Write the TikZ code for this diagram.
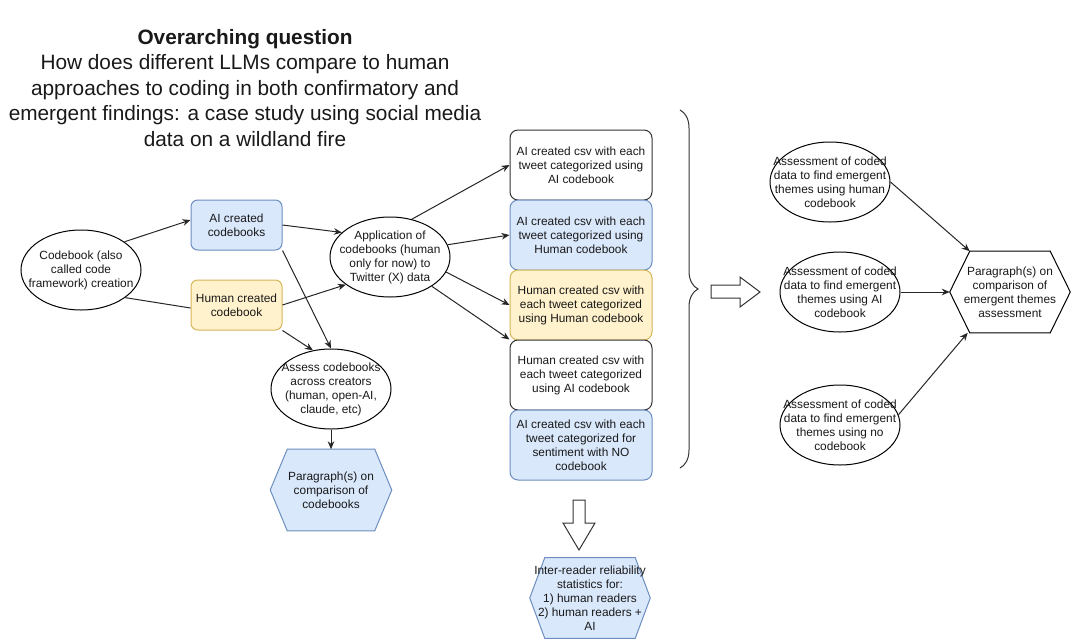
\documentclass[tikz,border=0pt]{standalone}
\usepackage{fontspec}
\setmainfont{Liberation Sans}
\usetikzlibrary{arrows.meta,shapes.geometric,decorations.pathreplacing,backgrounds}
\definecolor{bluef}{HTML}{DAE8FC}
\definecolor{blues}{HTML}{6C8EBF}
\definecolor{yelf}{HTML}{FFF2CC}
\definecolor{yels}{HTML}{D6B656}
\definecolor{dk}{HTML}{333333}
\newcommand{\hexdraw}[3]{%
  \draw[#3] (#1.west) -- ([xshift=#2]#1.north west) -- ([xshift=-#2]#1.north east) -- (#1.east) -- ([xshift=-#2]#1.south east) -- ([xshift=#2]#1.south west) -- cycle;}
\begin{document}
\begin{tikzpicture}[x=0.75pt,y=-0.75pt,
  every node/.style={font=\fontsize{8.9}{10.5}\selectfont, align=center, inner sep=0pt, text=black!90},
  ell/.style={ellipse, draw=black, line width=0.75pt, fill=white, minimum width=90pt, minimum height=60pt},
  rbox/.style={rectangle, rounded corners=6pt, line width=0.75pt, draw=dk, fill=white, minimum width=106.5pt, minimum height=52.5pt},
  sbox/.style={rectangle, rounded corners=5pt, line width=0.75pt, minimum width=68.25pt, minimum height=37.5pt},
  bluebox/.style={fill=bluef, draw=blues},
  yelbox/.style={fill=yelf, draw=yels},
  hexnode/.style={rectangle, minimum width=90pt, minimum height=60pt},
  hexblue/.style={fill=bluef, draw=blues, line width=0.75pt},
  hexwhite/.style={fill=white, draw=black, line width=0.75pt},
  arr/.style={-{Stealth[length=6pt,width=5pt]}, line width=0.75pt, draw=black!85},
  plain/.style={line width=0.75pt, draw=black!85},
  blockarrow/.style={draw=dk, line width=0.75pt, fill=white}
]
\useasboundingbox (0,0) rectangle (1072,640);

% title
\node[font=\fontsize{15.6}{19.1}\selectfont] (title) at (245,88)
  {\textbf{Overarching question}\\How does different LLMs compare to human\\approaches to coding in both confirmatory and\\emergent findings: a case study using social media\\data on a wildland fire};

% left part
\node[ell, label=center:{Codebook (also\\called code\\framework) creation}] (cb) at (81,270) {};
\node[sbox, bluebox] (aicb) at (236.5,225) {AI created\\codebooks};
\node[sbox, yelbox] (hucb) at (236.5,305) {Human created\\codebook};
\node[ell, label=center:{Application of\\codebooks (human\\only for now) to\\Twitter (X) data}] (app) at (390,257) {};
\node[ell, label=center:{Assess codebooks\\across creators\\(human, open-AI,\\claude, etc)}] (assess) at (331,389) {};
\node[hexnode, minimum width=90.75pt, minimum height=60.75pt, label=center:{Paragraph(s) on\\comparison of\\codebooks}] (p1) at (331,490) {};

% stack
\node[rbox] (b1) at (581,165) {AI created csv with each\\tweet categorized using\\AI codebook};
\node[rbox, bluebox] (b2) at (581,235) {AI created csv with each\\tweet categorized using\\Human codebook};
\node[rbox, yelbox] (b3) at (581,305) {Human created csv with\\each tweet categorized\\using Human codebook};
\node[rbox] (b4) at (581,375) {Human created csv with\\each tweet categorized\\using AI codebook};
\node[rbox, bluebox] (b5) at (581,445) {AI created csv with each\\tweet categorized for\\sentiment with NO\\codebook};

\node[hexnode, label=center:{Inter-reader reliability\\statistics for:\\1) human readers\\2) human readers +\\AI}] (irr) at (590,598) {};

% right part
\node[ell, label=center:{Assessment of coded\\data to find emergent\\themes using human\\codebook}] (e1) at (830,182) {};
\node[ell, label=center:{Assessment of coded\\data to find emergent\\themes using AI\\codebook}] (e2) at (840,292) {};
\node[ell, label=center:{Assessment of coded\\data to find emergent\\themes using no\\codebook}] (e3) at (840,425) {};
\node[hexnode, minimum height=60.75pt, label=center:{Paragraph(s) on\\comparison of\\emergent themes\\assessment}] (pr) at (1010,292) {};

\begin{scope}[on background layer]
  \hexdraw{p1}{12.75pt}{hexblue}
  \hexdraw{irr}{11.25pt}{hexblue}
  \hexdraw{pr}{15pt}{hexwhite}
\end{scope}

% connectors
\draw[arr] (cb.33) -- ([yshift=3.75pt]aicb.west);
\draw[plain] (cb.-32) -- ([yshift=-2.25pt]hucb.west);
\draw[arr] (aicb.east) -- (app.153);
\draw[arr] (hucb.east) -- (app.-148);
\draw[arr] (aicb.south east) -- (assess.north);
\draw[arr] (hucb.south east) -- (assess.115);
\draw[arr] (assess.south) -- (p1.north);
\draw[arr] (app.60) -- (b1.west);
\draw[arr] (app.12) -- (b2.west);
\draw[arr] (app.-15) -- (b3.west);
\draw[arr] (app.-35) -- (b4.north west);
\draw[arr] (e1.east) -- ([xshift=15pt]pr.north west);
\draw[arr] (e2.east) -- (pr.west);
\draw[arr] (e3.10) -- ([xshift=13.5pt]pr.south west);

% brace
\draw[dk, line width=0.75pt, decorate, decoration={brace, amplitude=13.5pt}] (680,110) -- (680,468);

% block arrows
\draw[blockarrow] (711,285) -- (740,285) -- (740,277) -- (760,292) -- (740,307) -- (740,298) -- (711,298) -- cycle;
\draw[blockarrow] (573,500) -- (585,500) -- (585,523) -- (595,523) -- (579,550) -- (563,523) -- (573,523) -- cycle;

\end{tikzpicture}
\end{document}
